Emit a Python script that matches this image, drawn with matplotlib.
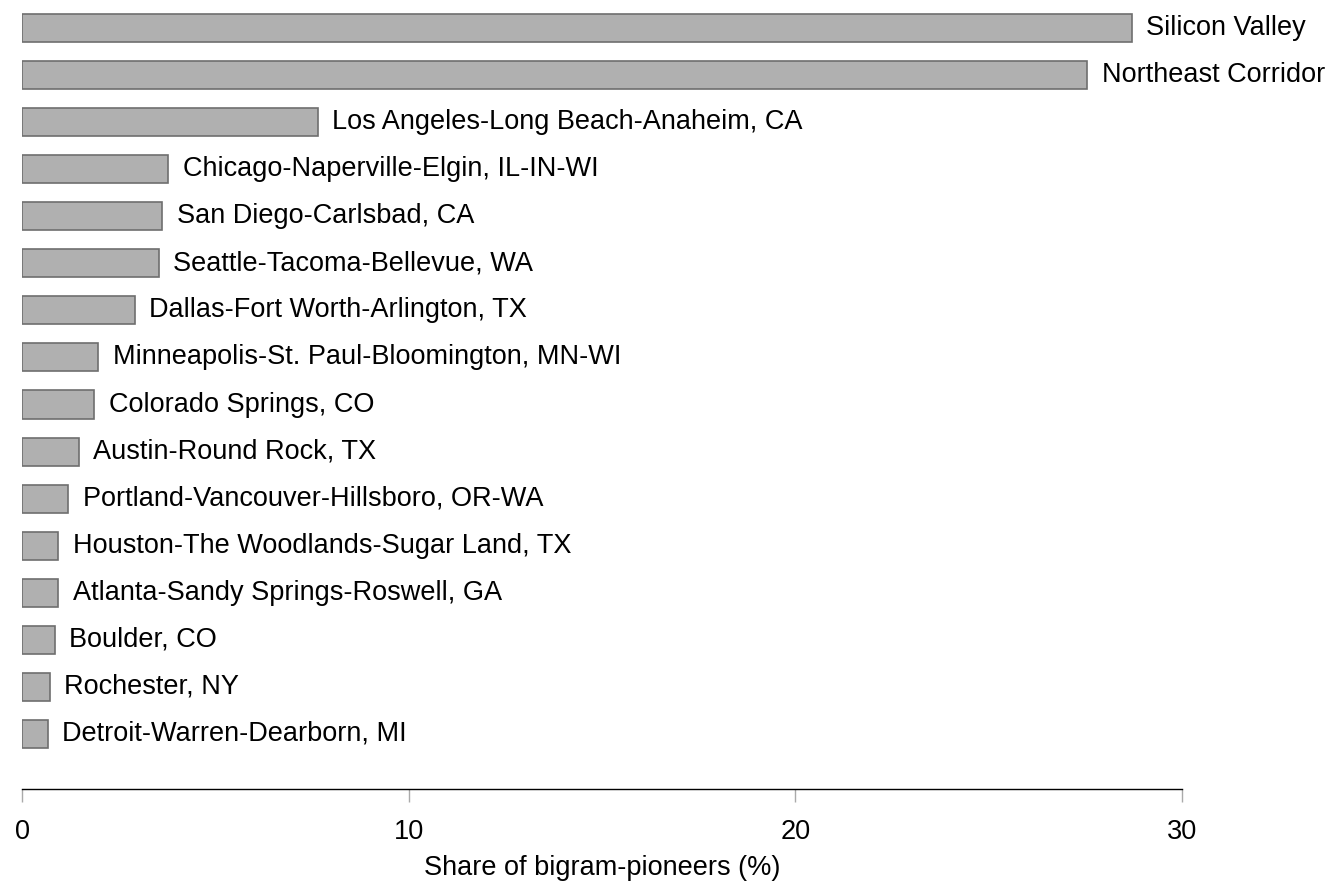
import matplotlib.pyplot as plt

plt.rcParams['font.family'] = ['Liberation Sans', 'DejaVu Sans']

regions = [
    'Silicon Valley',
    'Northeast Corridor',
    'Los Angeles-Long Beach-Anaheim, CA',
    'Chicago-Naperville-Elgin, IL-IN-WI',
    'San Diego-Carlsbad, CA',
    'Seattle-Tacoma-Bellevue, WA',
    'Dallas-Fort Worth-Arlington, TX',
    'Minneapolis-St. Paul-Bloomington, MN-WI',
    'Colorado Springs, CO',
    'Austin-Round Rock, TX',
    'Portland-Vancouver-Hillsboro, OR-WA',
    'Houston-The Woodlands-Sugar Land, TX',
    'Atlanta-Sandy Springs-Roswell, GA',
    'Boulder, CO',
    'Rochester, NY',
    'Detroit-Warren-Dearborn, MI',
]
share = [28.7, 27.55, 7.65, 3.78, 3.62, 3.54, 2.92, 1.97, 1.86, 1.47,
         1.19, 0.93, 0.93, 0.85, 0.72, 0.67]

fig = plt.figure(figsize=(13.32, 8.82), dpi=100)
ax = fig.add_axes([22 / 1332, 1 - 789 / 882, 1160 / 1332, 789 / 882])

pos = list(range(len(regions)))
ax.barh(pos, share, height=0.595, color='#b0b0b0', edgecolor='#6e6e6e', linewidth=1.2)

# labels just past the end of each bar
for y, v, name in zip(pos, share, regions):
    ax.annotate(name, (v, y), xytext=(10.5, 0), textcoords='offset points',
                ha='left', va='center', fontsize=19.5, annotation_clip=False)

ax.set_xlim(0, 30)
ax.set_ylim(16.17, -0.595)
ax.set_yticks([])
ax.set_xticks([0, 10, 20, 30])
ax.tick_params(axis='x', length=9.5, width=1, color='#aaaaaa', labelsize=19.5, pad=12)
for s in ['top', 'right', 'left']:
    ax.spines[s].set_visible(False)
ax.spines['bottom'].set_bounds(0, 30)
ax.spines['bottom'].set_linewidth(1)
ax.set_xlabel('Share of bigram-pioneers (%)', fontsize=19.5, labelpad=7.5)

fig.savefig('out.png', dpi=100)
